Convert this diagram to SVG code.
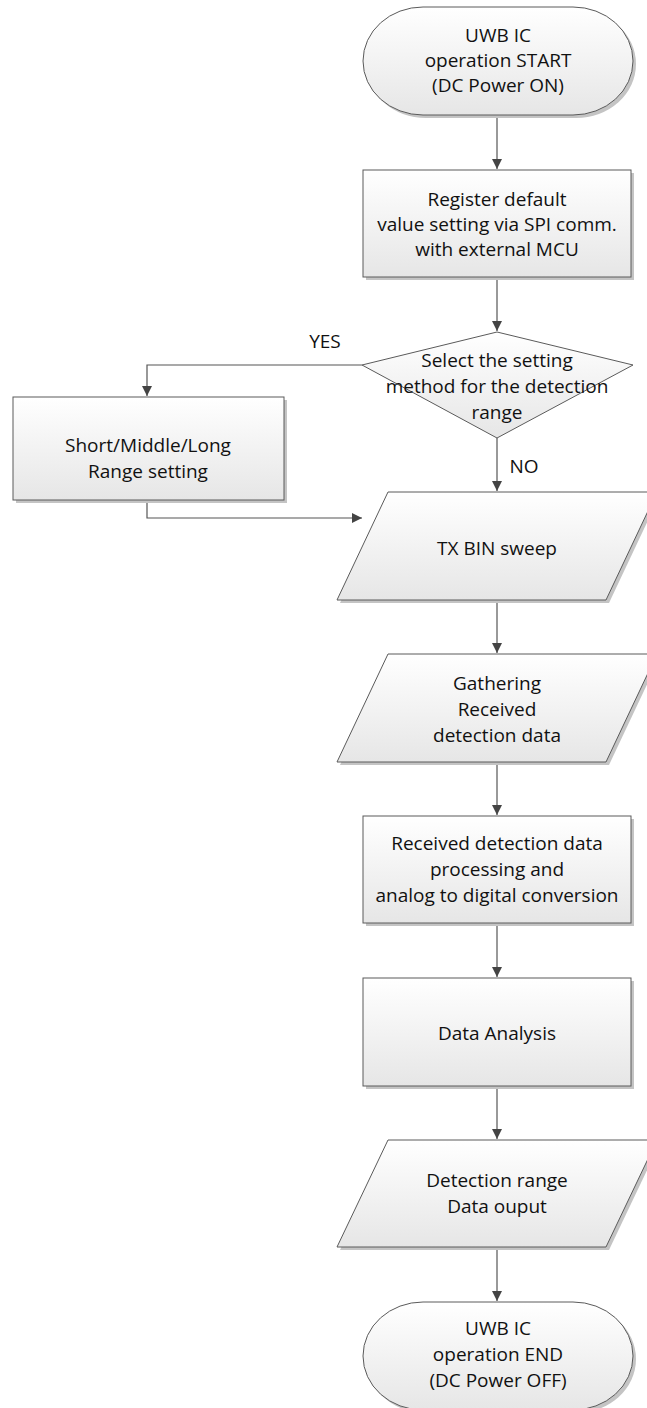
<svg xmlns="http://www.w3.org/2000/svg" width="647" height="1408" viewBox="0 0 647 1408">
<style>
.s{fill:url(#g);stroke:#5a5a5a;stroke-width:1}
.sh{fill:#c4c4c4;stroke:none}
.t{font-family:"Open Sans","Liberation Sans",sans-serif;font-size:19px;fill:#111;text-anchor:middle}
.c{fill:none;stroke:#555;stroke-width:1.2}
</style>
<defs>
<linearGradient id="g" x1="0" y1="0" x2="0" y2="1">
<stop offset="0" stop-color="#ffffff"/>
<stop offset="1" stop-color="#e6e6e6"/>
</linearGradient>
<marker id="a" markerWidth="12" markerHeight="12" refX="10" refY="5" orient="auto" markerUnits="userSpaceOnUse">
<path d="M0,0 L10,5 L0,10 Z" fill="#444"/>
</marker>
</defs>
<rect width="647" height="1408" fill="#fff"/>
<g id="connectors">
<path class="c" d="M497,115 V169" marker-end="url(#a)"/>
<path class="c" d="M497,277 V331" marker-end="url(#a)"/>
<path class="c" d="M362,365 H147 V396" marker-end="url(#a)"/>
<path class="c" d="M497,438 V491" marker-end="url(#a)"/>
<path class="c" d="M147,500 V518 H362" marker-end="url(#a)"/>
<path class="c" d="M497,600 V653" marker-end="url(#a)"/>
<path class="c" d="M497,762 V815" marker-end="url(#a)"/>
<path class="c" d="M497,923 V977" marker-end="url(#a)"/>
<path class="c" d="M497,1086 V1139" marker-end="url(#a)"/>
<path class="c" d="M497,1247 V1301" marker-end="url(#a)"/>
<text class="t" x="325" y="348">YES</text>
<text class="t" x="524" y="473">NO</text>
</g>
<g id="start">
<rect class="sh" x="366" y="10" width="270" height="108" rx="60" ry="54"/>
<rect class="s" x="363" y="7" width="270" height="108" rx="60" ry="54"/>
<text class="t" x="498" y="42">UWB IC</text>
<text class="t" x="498" y="67">operation START</text>
<text class="t" x="498" y="92">(DC Power ON)</text>
</g>
<g id="register">
<rect class="sh" x="366" y="173" width="268" height="107"/>
<rect class="s" x="363" y="170" width="268" height="107"/>
<text class="t" x="497" y="206">Register default</text>
<text class="t" x="497" y="231">value setting via SPI comm.</text>
<text class="t" x="497" y="256">with external MCU</text>
</g>
<g id="decision">
<polygon class="s" points="497,332 633,365 497,438 362,365"/>
<text class="t" x="497" y="367">Select the setting</text>
<text class="t" x="497" y="393">method for the detection</text>
<text class="t" x="497" y="419">range</text>
</g>
<g id="range">
<rect class="sh" x="16" y="400" width="271" height="103"/>
<rect class="s" x="13" y="397" width="271" height="103"/>
<text class="t" x="148" y="452">Short/Middle/Long</text>
<text class="t" x="148" y="478">Range setting</text>
</g>
<g id="txbin">
<polygon class="sh" points="391,495 660,495 609,603 340,603"/>
<polygon class="s" points="388,492 657,492 606,600 337,600"/>
<text class="t" x="497" y="555">TX BIN sweep</text>
</g>
<g id="gather">
<polygon class="sh" points="391,657 660,657 609,765 340,765"/>
<polygon class="s" points="388,654 657,654 606,762 337,762"/>
<text class="t" x="497" y="690">Gathering</text>
<text class="t" x="497" y="716">Received</text>
<text class="t" x="497" y="742">detection data</text>
</g>
<g id="process">
<rect class="sh" x="366" y="819" width="268" height="107"/>
<rect class="s" x="363" y="816" width="268" height="107"/>
<text class="t" x="497" y="850">Received detection data</text>
<text class="t" x="497" y="876">processing and</text>
<text class="t" x="497" y="902">analog to digital conversion</text>
</g>
<g id="analysis">
<rect class="sh" x="366" y="981" width="268" height="108"/>
<rect class="s" x="363" y="978" width="268" height="108"/>
<text class="t" x="497" y="1040">Data Analysis</text>
</g>
<g id="output">
<polygon class="sh" points="391,1143 660,1143 609,1250 340,1250"/>
<polygon class="s" points="388,1140 657,1140 606,1247 337,1247"/>
<text class="t" x="497" y="1187">Detection range</text>
<text class="t" x="497" y="1213">Data ouput</text>
</g>
<g id="end">
<rect class="sh" x="366" y="1305" width="270" height="108" rx="60" ry="54"/>
<rect class="s" x="363" y="1302" width="270" height="108" rx="60" ry="54"/>
<text class="t" x="498" y="1335">UWB IC</text>
<text class="t" x="498" y="1361">operation END</text>
<text class="t" x="498" y="1387">(DC Power OFF)</text>
</g>
</svg>
